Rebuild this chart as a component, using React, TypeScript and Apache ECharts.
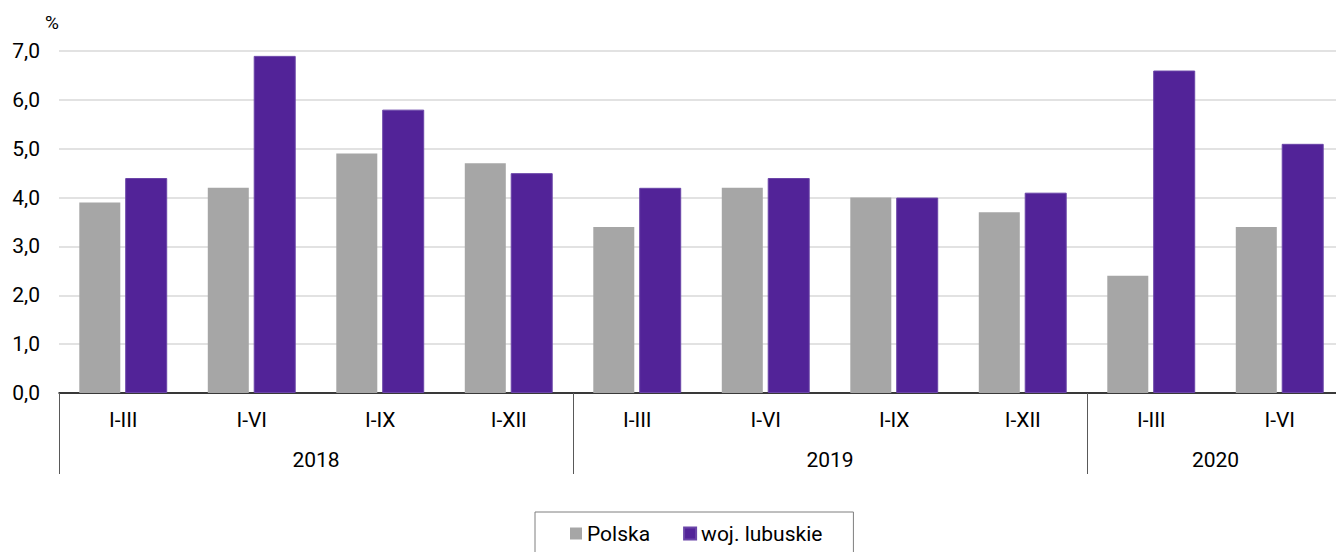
import React, { useEffect, useRef } from "react";
import * as echarts from "echarts";

const categories = ["I-III", "I-VI", "I-IX", "I-XII", "I-III", "I-VI", "I-IX", "I-XII", "I-III", "I-VI"];
const years = ["2018", "2019", "2020"];
const yearGroupSizes = [4, 4, 2];
const polska = [3.9, 4.2, 4.9, 4.7, 3.4, 4.2, 4.0, 3.7, 2.4, 3.4];
const lubuskie = [4.4, 6.9, 5.8, 4.5, 4.2, 4.4, 4.0, 4.1, 6.6, 5.1];
const yTicks = [0, 1, 2, 3, 4, 5, 6, 7];

const FONT = "Roboto";
const FS = 21;

export default function App() {
  const ref = useRef<HTMLDivElement>(null);
  useEffect(() => {
    document.body.style.margin = "0";
    if (!ref.current) return;
    const chart = echarts.init(ref.current, null, { renderer: "svg" });

    const starts: number[] = [];
    const mids: number[] = [];
    let acc = 0;
    yearGroupSizes.forEach((s) => {
      starts.push(acc);
      mids.push(acc + s / 2);
      acc += s;
    });

    chart.setOption({
      animation: false,
      textStyle: { fontFamily: FONT },
      grid: { left: 59, top: 51, height: 342, right: -8, outerBoundsMode: "none" },
      legend: {
        left: 535,
        top: 512,
        icon: "rect",
        itemWidth: 12,
        itemHeight: 12,
        itemGap: 33,
        borderColor: "#7f7f7f",
        borderWidth: 1,
        padding: [11, 31, 30, 35],
        textStyle: { fontFamily: FONT, fontSize: FS, color: "#000" },
        data: ["Polska", "woj. lubuskie"],
      },
      xAxis: [
        {
          type: "category",
          data: categories,
          axisLine: { show: true, lineStyle: { color: "#000", width: 1.5 } },
          axisTick: { show: false },
          axisLabel: { fontFamily: FONT, fontSize: FS, color: "#000", margin: 16 },
        },
        {
          type: "value",
          min: 0,
          max: categories.length,
          position: "bottom",
          axisLine: { show: false },
          splitLine: { show: false },
          axisTick: {
            show: true,
            customValues: starts,
            length: 81,
            lineStyle: { color: "#595959", width: 1 },
          },
          axisLabel: {
            show: true,
            customValues: mids,
            margin: 56,
            fontFamily: FONT,
            fontSize: FS,
            color: "#000",
            formatter: (v: number) => {
              const i = mids.findIndex((m) => Math.abs(m - v) < 1e-6);
              return i >= 0 ? years[i] : "";
            },
          },
        },
      ],
      yAxis: {
        type: "value",
        min: yTicks[0],
        max: yTicks[yTicks.length - 1],
        interval: 1,
        name: "%",
        nameGap: 19,
        nameTextStyle: { fontFamily: FONT, fontSize: FS - 2, color: "#000", align: "right" },
        axisLine: { show: false },
        axisTick: { show: false },
        axisLabel: {
          fontFamily: FONT,
          fontSize: FS,
          color: "#000",
          margin: 19,
          formatter: (v: number) => v.toFixed(1).replace(".", ","),
        },
        splitLine: { lineStyle: { color: "#d9d9d9", width: 1.5 } },
      },
      series: [
        {
          name: "Polska",
          type: "bar",
          data: polska,
          barWidth: 41,
          barGap: "12%",
          itemStyle: { color: "#a6a6a6" },
        },
        {
          name: "woj. lubuskie",
          type: "bar",
          data: lubuskie,
          barWidth: 42,
          itemStyle: { color: "#522398", borderColor: "#6a45a8", borderWidth: 1 },
        },
      ],
    });
    return () => chart.dispose();
  }, []);
  return <div ref={ref} style={{ width: 1336, height: 552 }} />;
}
